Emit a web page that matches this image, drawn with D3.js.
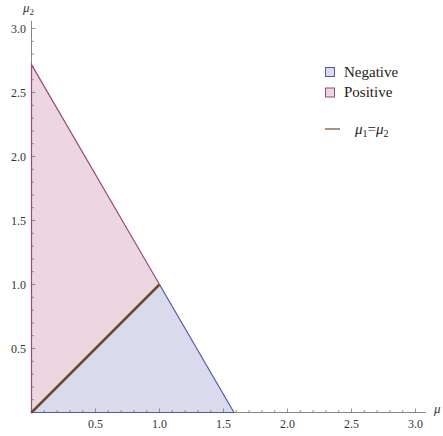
<!DOCTYPE html>
<html>
<head>
<meta charset="utf-8">
<script src="https://cdn.jsdelivr.net/npm/d3@7"></script>
<style>
  body { margin: 0; background: #fff; }
</style>
</head>
<body>
<svg id="chart" width="443" height="436" font-family="'Liberation Serif', 'DejaVu Serif', serif"></svg>
<script>
// region boundaries (mu1, mu2)
const positiveRegion = [[0, 0], [0, 2.718], [1, 1]];
const negativeRegion = [[0, 0], [1, 1], [1.582, 0]];
const diagonal = [[0, 0], [1, 1]];
const xTicks = [0.5, 1.0, 1.5, 2.0, 2.5, 3.0];
const yTicks = [0.5, 1.0, 1.5, 2.0, 2.5, 3.0];
const legendItems = ["Negative", "Positive"];

const svg = d3.select("#chart");

const x = d3.scaleLinear().domain([0, 3]).range([31.5, 415.5]);
const y = d3.scaleLinear().domain([0, 3]).range([412.5, 28.5]);

const colors = {
  Positive: { fill: "#ebd6e2", stroke: "#9b4a80" },
  Negative: { fill: "#d9daec", stroke: "#5656b0" }
};

const area = d3.line().x(d => x(d[0])).y(d => y(d[1]));

// Fills
svg.append("path")
  .attr("d", area(positiveRegion) + "Z")
  .attr("fill", colors.Positive.fill);
svg.append("path")
  .attr("d", area(negativeRegion) + "Z")
  .attr("fill", colors.Negative.fill);

// Axes
const xAxis = svg.append("g");
xAxis.append("line")
  .attr("x1", x(0) - 1).attr("x2", x(3.08))
  .attr("y1", y(0)).attr("y2", y(0))
  .attr("stroke", "#888");
const yAxis = svg.append("g");
yAxis.append("line")
  .attr("x1", x(0)).attr("x2", x(0))
  .attr("y1", y(0) + 1).attr("y2", y(3.06))
  .attr("stroke", "#888");

const isMajor = d => Math.abs(d * 2 - Math.round(d * 2)) < 1e-6;
const minor = d3.range(1, 31).map(i => i / 10);
xAxis.selectAll(".xt").data(minor).enter().append("line")
  .attr("x1", d => x(d)).attr("x2", d => x(d))
  .attr("y1", y(0)).attr("y2", d => y(0) - (isMajor(d) ? 4 : 2.5))
  .attr("stroke", "#777").attr("stroke-width", 0.8);
yAxis.selectAll(".yt").data(minor).enter().append("line")
  .attr("y1", d => y(d)).attr("y2", d => y(d))
  .attr("x1", x(0)).attr("x2", d => x(0) + (isMajor(d) ? 4 : 2.5))
  .attr("stroke", "#777").attr("stroke-width", 0.8);

xAxis.selectAll(".xl").data(xTicks).enter().append("text")
  .attr("x", d => x(d)).attr("y", 428)
  .attr("text-anchor", "middle").attr("font-size", 12).attr("fill", "#333")
  .text(d => d.toFixed(1));
yAxis.selectAll(".yl").data(yTicks).enter().append("text")
  .attr("x", 26).attr("y", d => y(d) + 4)
  .attr("text-anchor", "end").attr("font-size", 12).attr("fill", "#333")
  .text(d => d.toFixed(1));

// Axis labels
svg.append("text").attr("x", 434).attr("y", 413)
  .attr("font-size", 13).attr("font-style", "italic").attr("fill", "#333").text("μ");
const yl = svg.append("text").attr("x", 23).attr("y", 12)
  .attr("font-size", 13).attr("font-style", "italic").attr("fill", "#333");
yl.append("tspan").text("μ");
yl.append("tspan").attr("font-size", 9).attr("dy", 3).attr("font-style", "normal").text("2");

// Region edges
svg.append("path")
  .attr("d", area(positiveRegion))
  .attr("fill", "none").attr("stroke", colors.Positive.stroke).attr("stroke-width", 1.2);
svg.append("path")
  .attr("d", area(negativeRegion.slice(1)))
  .attr("fill", "none").attr("stroke", colors.Negative.stroke).attr("stroke-width", 1.2);
svg.append("path")
  .attr("d", area([negativeRegion[0], negativeRegion[2]]))
  .attr("fill", "none").attr("stroke", colors.Negative.stroke).attr("stroke-width", 1.2);

// Diagonal mu1 = mu2
svg.append("path")
  .attr("d", area(diagonal))
  .attr("fill", "none").attr("stroke", "#6a4a2c").attr("stroke-width", 2.5);

// Legend
const legend = svg.append("g");
legendItems.forEach((name, i) => {
  const yy = 67 + i * 20.5;
  legend.append("rect")
    .attr("x", 325.5).attr("y", yy + 0.5).attr("width", 9).attr("height", 9)
    .attr("fill", colors[name].fill).attr("stroke", colors[name].stroke);
  legend.append("text")
    .attr("x", 344).attr("y", yy + 9.5)
    .attr("font-size", 15).attr("fill", "#222").text(name);
});
legend.append("line")
  .attr("x1", 325).attr("x2", 340).attr("y1", 129).attr("y2", 129)
  .attr("stroke", "#8c6f55").attr("stroke-width", 1.5);
const lt = legend.append("text").attr("x", 355).attr("y", 134)
  .attr("font-size", 15).attr("fill", "#222");
lt.append("tspan").attr("font-style", "italic").text("μ");
lt.append("tspan").attr("font-size", 10).attr("dy", 3).text("1");
lt.append("tspan").attr("dy", -3).text("=");
lt.append("tspan").attr("font-style", "italic").text("μ");
lt.append("tspan").attr("font-size", 10).attr("dy", 3).text("2");
</script>
</body>
</html>
